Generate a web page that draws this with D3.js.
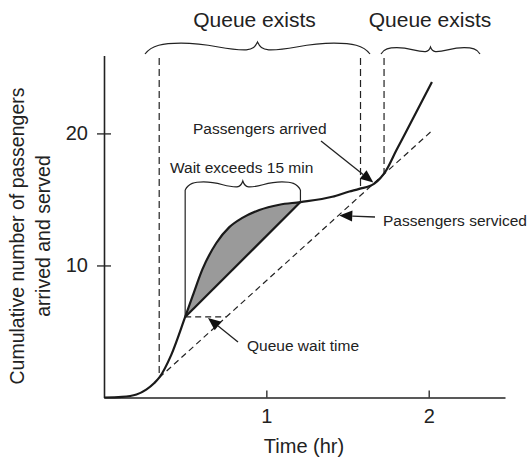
<!DOCTYPE html>
<html>
<head>
<meta charset="utf-8">
<script src="https://cdn.jsdelivr.net/npm/d3@7"></script>
<style>
  html, body { margin: 0; padding: 0; background: #fff; }
  svg { display: block; font-family: "Liberation Sans", Arial, Helvetica, sans-serif; }
</style>
</head>
<body>
<svg id="chart" width="529" height="459"></svg>
<script>
// Cumulative passengers arrived (hours, count)
const arrivalTime  = [0, 0.11, 0.20, 0.26, 0.31, 0.34, 0.415, 0.50, 0.545, 0.606, 0.692, 0.772, 0.852, 0.957, 1.08, 1.21, 1.406, 1.511, 1.572, 1.665, 1.738, 1.80, 1.86, 2.02];
const arrivalCount = [0, 0.05, 0.23, 0.6, 1.1, 1.5, 3.25, 6.1, 7.65, 9.7, 11.7, 12.9, 13.6, 14.2, 14.6, 14.8, 15.2, 15.6, 15.8, 16.2, 17.2, 18.7, 20.1, 23.9];

// Cumulative passengers serviced (constant service rate)
const servedTime  = [0.34, 2.02];
const servedCount = [1.5, 20.2];

// Times where a queue starts or ends
const queueEdges = [0.34, 1.58, 1.725];

// Period in which the wait is longer than 15 minutes
const waitStart = 0.50;
const waitEnd   = 1.21;

const xTicks = [1, 2];
const yTicks = [10, 20];
const xTickLabels = ["1", "2"];
const yTickLabels = ["10", "20"];

const svg = d3.select("#chart");
const x = d3.scaleLinear().domain([0, 2.47]).range([104, 505]);
const y = d3.scaleLinear().domain([0, 25.9]).range([397.5, 55.5]);

const arrivals = arrivalTime.map((t, i) => [t, arrivalCount[i]]);
const served = servedTime.map((t, i) => [t, servedCount[i]]);

const arrivalAt = d3.scaleLinear().domain(arrivalTime).range(arrivalCount);
const servedAt = d3.scaleLinear().domain(servedTime).range(servedCount);
const servedTimeAt = d3.scaleLinear().domain(servedCount).range(servedTime);

const line = d3.line().x(d => x(d[0])).y(d => y(d[1])).curve(d3.curveMonotoneX);

// Gray region: above the chord, below the arrival curve
const defs = svg.append("defs");
defs.append("clipPath").attr("id", "under-arrival")
  .append("path")
  .attr("d", d3.area().x(d => x(d[0])).y0(y(0)).y1(d => y(d[1])).curve(d3.curveMonotoneX)(arrivals));

const chordA = [waitStart, arrivalAt(waitStart)];
const chordB = [waitEnd, arrivalAt(waitEnd)];
svg.append("path")
  .attr("clip-path", "url(#under-arrival)")
  .attr("d", d3.line()([
    [x(chordA[0]), y(chordA[1])],
    [x(chordB[0]), y(chordB[1])],
    [x(chordB[0]), y(25.9)],
    [x(chordA[0]), y(25.9)]
  ]) + "Z")
  .attr("fill", "#9a9a9a");

// Axes
const yAxis = svg.append("g")
  .attr("transform", `translate(${x(0)},0)`)
  .call(d3.axisLeft(y).tickValues(yTicks).tickFormat((d, i) => yTickLabels[i]).tickSizeOuter(0).tickSizeInner(7));
yAxis.select(".domain").attr("stroke", "#222").attr("stroke-width", 1.6);
yAxis.selectAll(".tick line").attr("x1", -7).attr("x2", 7).attr("stroke", "#222").attr("stroke-width", 1.3);
yAxis.selectAll(".tick text").attr("x", -16).attr("font-size", 20).attr("fill", "#222")
  .attr("font-family", "Liberation Sans, Arial, sans-serif");

const xAxis = svg.append("g")
  .attr("transform", `translate(0,${y(0)})`)
  .call(d3.axisBottom(x).tickValues(xTicks).tickFormat((d, i) => xTickLabels[i]).tickSizeOuter(0).tickSizeInner(-7));
xAxis.select(".domain").attr("stroke", "#222").attr("stroke-width", 1.6);
xAxis.selectAll(".tick line").attr("stroke", "#222").attr("stroke-width", 1.3);
xAxis.selectAll(".tick text").attr("y", 25).attr("dy", 0).attr("font-size", 20).attr("fill", "#222")
  .attr("font-family", "Liberation Sans, Arial, sans-serif");

svg.append("text").attr("x", 304).attr("y", 453).attr("text-anchor", "middle")
  .attr("font-size", 20).attr("fill", "#222").text("Time (hr)");

const yTitle = svg.append("text").attr("transform", "translate(24,236) rotate(-90)")
  .attr("text-anchor", "middle").attr("font-size", 19.5).attr("fill", "#222");
yTitle.append("tspan").attr("x", 0).attr("y", 0).text("Cumulative number of passengers");
yTitle.append("tspan").attr("x", 0).attr("y", 26).text("arrived and served");

// Queue boundaries (dashed verticals)
const topY = 58;
queueEdges.forEach(t => {
  svg.append("line")
    .attr("x1", x(t)).attr("x2", x(t))
    .attr("y1", topY).attr("y2", y(arrivalAt(t)))
    .attr("stroke", "#222").attr("stroke-width", 1.2).attr("stroke-dasharray", "7,4");
});

// Served line
svg.append("path").attr("d", d3.line().x(d => x(d[0])).y(d => y(d[1]))(served))
  .attr("fill", "none").attr("stroke", "#222").attr("stroke-width", 1.2).attr("stroke-dasharray", "6,4");

// Queue wait time (horizontal dashed)
const waitCount = arrivalAt(waitStart);
svg.append("line")
  .attr("x1", x(waitStart)).attr("x2", x(servedTimeAt(waitCount)))
  .attr("y1", y(waitCount)).attr("y2", y(waitCount))
  .attr("stroke", "#222").attr("stroke-width", 1.2).attr("stroke-dasharray", "6,4");

// Chord of the gray region
svg.append("line")
  .attr("x1", x(chordA[0])).attr("y1", y(chordA[1]))
  .attr("x2", x(chordB[0])).attr("y2", y(chordB[1]))
  .attr("stroke", "#1a1a1a").attr("stroke-width", 2.2);

// Arrival curve
svg.append("path").attr("d", line(arrivals))
  .attr("fill", "none").attr("stroke", "#1a1a1a").attr("stroke-width", 2.2).attr("stroke-linejoin", "round");

// Curly braces
function brace(x1, x2, ye, h) {
  const L = x2 - x1, xm = (x1 + x2) / 2;
  return `M${x1},${ye}` +
    `C${x1 + 0.03 * L},${ye - 0.75 * h} ${x1 + 0.08 * L},${ye - 0.9 * h} ${x1 + 0.16 * L},${ye - 0.9 * h}` +
    `C${x1 + 0.3 * L},${ye - 0.9 * h} ${xm - 0.15 * L},${ye - 0.3 * h} ${xm - 0.05 * L},${ye - 0.35 * h}` +
    `C${xm - 0.02 * L},${ye - 0.4 * h} ${xm - 0.01 * L},${ye - 0.6 * h} ${xm},${ye - h}` +
    `C${xm + 0.01 * L},${ye - 0.6 * h} ${xm + 0.02 * L},${ye - 0.4 * h} ${xm + 0.05 * L},${ye - 0.35 * h}` +
    `C${xm + 0.15 * L},${ye - 0.3 * h} ${x2 - 0.3 * L},${ye - 0.9 * h} ${x2 - 0.16 * L},${ye - 0.9 * h}` +
    `C${x2 - 0.08 * L},${ye - 0.9 * h} ${x2 - 0.03 * L},${ye - 0.75 * h} ${x2},${ye}`;
}
const braceStyle = sel => sel.attr("fill", "none").attr("stroke", "#222").attr("stroke-width", 1.2);
svg.append("path").attr("d", brace(145, 370, 54, 12)).call(braceStyle);
svg.append("path").attr("d", brace(381, 480, 54, 7)).call(braceStyle);
svg.append("path").attr("d", brace(x(waitStart), x(waitEnd), 190, 9)).call(braceStyle);

// Sides of the "wait exceeds" bracket
svg.append("line").attr("x1", x(waitStart)).attr("x2", x(waitStart))
  .attr("y1", 190).attr("y2", y(arrivalAt(waitStart))).attr("stroke", "#222").attr("stroke-width", 1.2);
svg.append("line").attr("x1", x(waitEnd)).attr("x2", x(waitEnd))
  .attr("y1", 190).attr("y2", y(arrivalAt(waitEnd))).attr("stroke", "#222").attr("stroke-width", 1.2);

// Labels
const label = (tx, ty, s, size, anchor) => svg.append("text").attr("x", tx).attr("y", ty)
  .attr("font-size", size).attr("fill", "#222").attr("text-anchor", anchor || "start").text(s);
label(254.5, 27, "Queue exists", 21, "middle");
label(430, 27, "Queue exists", 21, "middle");
label(170, 173, "Wait exceeds 15 min", 15.5);
label(193, 134, "Passengers arrived", 15.5);
label(383, 226, "Passengers serviced", 15.5);
label(247, 351, "Queue wait time", 15.5);

// Arrows
function arrow(x1, y1, x2, y2) {
  const ang = Math.atan2(y2 - y1, x2 - x1), len = 13, hw = 5.5;
  const bx = x2 - len * Math.cos(ang), by = y2 - len * Math.sin(ang);
  svg.append("line").attr("x1", x1).attr("y1", y1).attr("x2", bx).attr("y2", by)
    .attr("stroke", "#222").attr("stroke-width", 1.3);
  svg.append("path").attr("d", d3.line()([
    [x2, y2],
    [bx + hw * Math.sin(ang), by - hw * Math.cos(ang)],
    [bx - hw * Math.sin(ang), by + hw * Math.cos(ang)]
  ]) + "Z").attr("fill", "#111");
}
const tMeet = 1.665;
arrow(321, 141, x(tMeet) - 1, y(arrivalAt(tMeet)) - 1);
const tServ = 1.443;
arrow(375, 217, x(tServ) + 1, y(servedAt(tServ)));
arrow(238, 342, 208, y(waitCount) + 1);
</script>
</body>
</html>
